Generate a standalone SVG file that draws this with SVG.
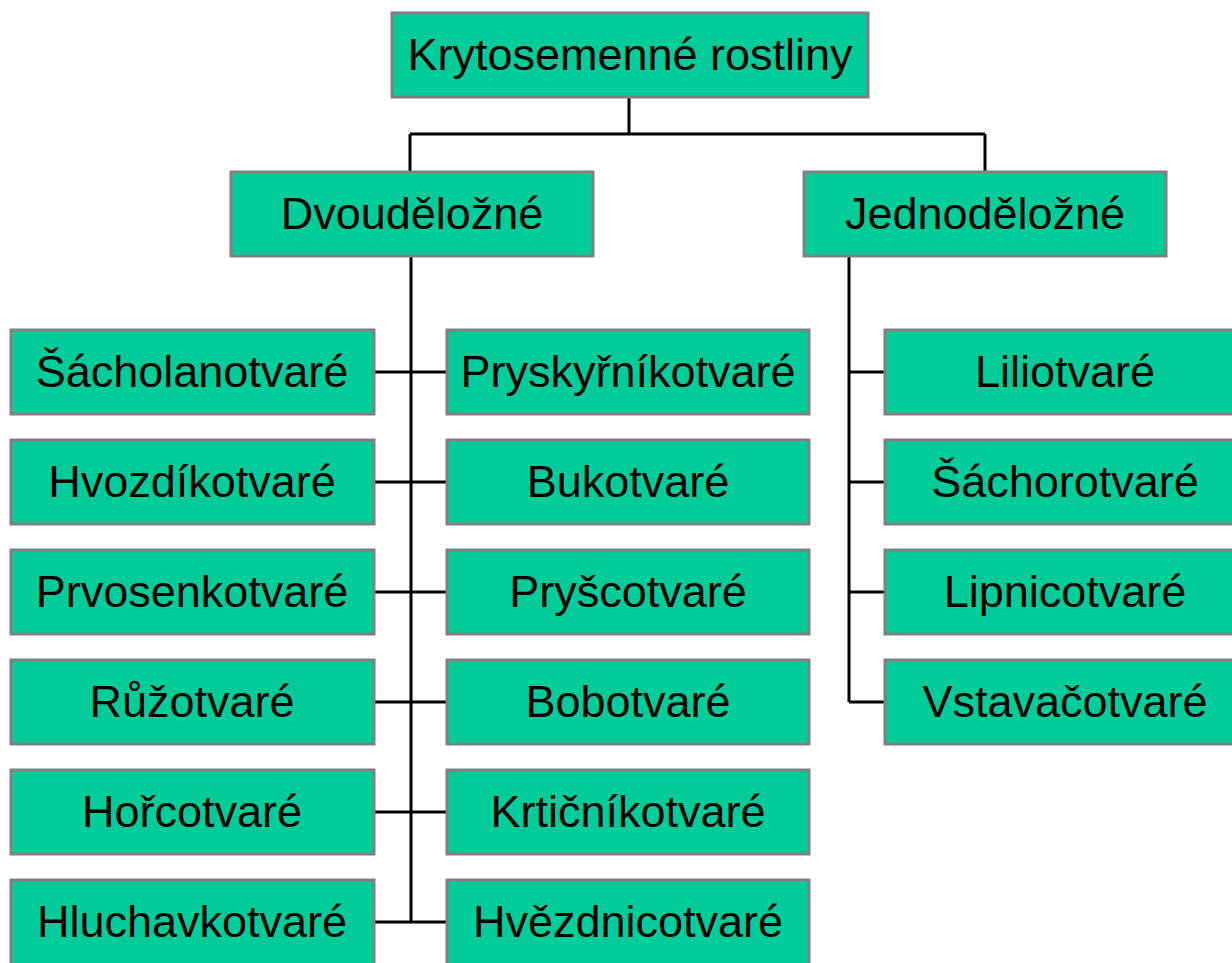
<svg xmlns="http://www.w3.org/2000/svg" width="1232" height="963" viewBox="0 0 1232 963">
<style>
.box{fill:#00CC99;stroke:#808080;stroke-width:3}
.lbl{font-family:"Liberation Sans",Arial,sans-serif;font-size:45px;fill:#000;text-anchor:middle}
.con{stroke:#000;stroke-width:3;fill:none}
</style>
<rect width="1232" height="963" fill="#fff"/>
<g id="connectors">
<path class="con" d="M629,97V134M410,134H985M410,134V172M985,134V172"/>
<path class="con" d="M411,256V922M374,372H447M374,482H447M374,592H447M374,702H447M374,812H447M374,922H447"/>
<path class="con" d="M849,256V702M849,372H885M849,482H885M849,592H885M849,702H885"/>
</g>
<g id="n-root"><rect class="box" x="392" y="13" width="476" height="84"/><text class="lbl" x="630" y="70">Krytosemenné rostliny</text></g>
<g id="n-dvou"><rect class="box" x="231" y="172" width="362" height="84"/><text class="lbl" x="412" y="229">Dvouděložné</text></g>
<g id="n-jedno"><rect class="box" x="804" y="172" width="362" height="84"/><text class="lbl" x="985" y="229">Jednoděložné</text></g>
<g id="n-l1"><rect class="box" x="11" y="330" width="363" height="84"/><text class="lbl" x="192" y="387">Šácholanotvaré</text></g>
<g id="n-l2"><rect class="box" x="11" y="440" width="363" height="84"/><text class="lbl" x="192" y="497">Hvozdíkotvaré</text></g>
<g id="n-l3"><rect class="box" x="11" y="550" width="363" height="84"/><text class="lbl" x="192" y="607">Prvosenkotvaré</text></g>
<g id="n-l4"><rect class="box" x="11" y="660" width="363" height="84"/><text class="lbl" x="192" y="717">Růžotvaré</text></g>
<g id="n-l5"><rect class="box" x="11" y="770" width="363" height="84"/><text class="lbl" x="192" y="827">Hořcotvaré</text></g>
<g id="n-l6"><rect class="box" x="11" y="880" width="363" height="86"/><text class="lbl" x="192" y="937">Hluchavkotvaré</text></g>
<g id="n-m1"><rect class="box" x="447" y="330" width="362" height="84"/><text class="lbl" x="628" y="387">Pryskyřníkotvaré</text></g>
<g id="n-m2"><rect class="box" x="447" y="440" width="362" height="84"/><text class="lbl" x="628" y="497">Bukotvaré</text></g>
<g id="n-m3"><rect class="box" x="447" y="550" width="362" height="84"/><text class="lbl" x="628" y="607">Pryšcotvaré</text></g>
<g id="n-m4"><rect class="box" x="447" y="660" width="362" height="84"/><text class="lbl" x="628" y="717">Bobotvaré</text></g>
<g id="n-m5"><rect class="box" x="447" y="770" width="362" height="84"/><text class="lbl" x="628" y="827">Krtičníkotvaré</text></g>
<g id="n-m6"><rect class="box" x="447" y="880" width="362" height="86"/><text class="lbl" x="628" y="937">Hvězdnicotvaré</text></g>
<g id="n-r1"><rect class="box" x="885" y="330" width="362" height="84"/><text class="lbl" x="1065" y="387">Liliotvaré</text></g>
<g id="n-r2"><rect class="box" x="885" y="440" width="362" height="84"/><text class="lbl" x="1065" y="497">Šáchorotvaré</text></g>
<g id="n-r3"><rect class="box" x="885" y="550" width="362" height="84"/><text class="lbl" x="1065" y="607">Lipnicotvaré</text></g>
<g id="n-r4"><rect class="box" x="885" y="660" width="362" height="84"/><text class="lbl" x="1065" y="717">Vstavačotvaré</text></g>
</svg>
